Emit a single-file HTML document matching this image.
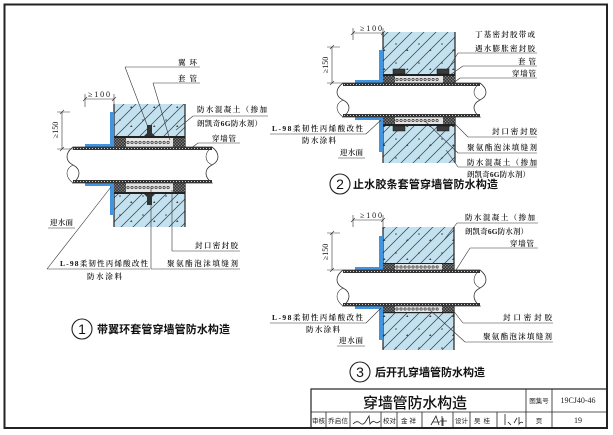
<!DOCTYPE html>
<html><head><meta charset="utf-8"><style>
html,body{margin:0;padding:0;background:#fff;}
svg{display:block;}
.l{font-family:"Liberation Serif","Noto Serif CJK SC",serif;font-size:7.5px;fill:#111;font-weight:600;}
.d{font-family:"Liberation Serif","Noto Serif CJK SC",serif;font-size:8px;fill:#111;}
.t{font-family:"Liberation Sans","Noto Sans CJK SC",sans-serif;font-size:11px;font-weight:bold;fill:#111;}
.n{font-family:"Liberation Sans",sans-serif;font-size:14px;fill:#111;}
.s{font-family:"Liberation Sans","Noto Sans CJK SC",sans-serif;font-size:6.5px;fill:#222;}
.ln{stroke:#333;stroke-width:0.6;fill:none;}
</style></head><body>
<svg width="613" height="435" viewBox="0 0 613 435" xmlns="http://www.w3.org/2000/svg">
<defs>
<pattern id="conc" width="12" height="12" patternUnits="userSpaceOnUse">
<rect width="12" height="12" fill="#c3e1ee"/>
<path d="M0,12 L12,0 M-3,3 L3,-3 M9,15 L15,9" stroke="#34444f" stroke-width="0.75"/>
</pattern>
<pattern id="dots" width="23" height="19" patternUnits="userSpaceOnUse">
<circle cx="5" cy="6" r="0.8" fill="#444"/><path d="M15,13 l2.5,0 l-1.2,-2z" fill="#444"/>
</pattern>
<pattern id="seal" width="3" height="3" patternUnits="userSpaceOnUse">
<rect width="3" height="3" fill="#3a3a3a"/><path d="M0,0 L3,3 M3,0 L0,3" stroke="#8a8a8a" stroke-width="0.5"/>
</pattern>
</defs>

<!-- frame -->
<rect x="4.5" y="4.5" width="602.5" height="423.5" fill="none" stroke="#222" stroke-width="2"/>

<!-- ================= DETAIL 1 ================= -->
<rect x="114" y="104" width="71" height="123" fill="url(#conc)"/>
<rect x="114" y="104" width="71" height="123" fill="url(#dots)"/>
<line x1="114" y1="104" x2="114" y2="227" stroke="#222" stroke-width="1.2"/>
<line x1="185" y1="104" x2="185" y2="227" stroke="#222" stroke-width="1.2"/>
<rect x="114" y="136" width="71" height="2" fill="#222"/>
<rect x="114" y="138" width="71" height="9" fill="#e4e4e4"/>
<rect x="114" y="138" width="12" height="9" fill="url(#seal)"/>
<rect x="173" y="138" width="12" height="9" fill="url(#seal)"/>
<line x1="128" y1="142.5" x2="171" y2="142.5" stroke="#333" stroke-width="3" stroke-linecap="round" stroke-dasharray="0.01 4"/>
<line x1="128" y1="142.5" x2="171" y2="142.5" stroke="#e4e4e4" stroke-width="1.6" stroke-linecap="round" stroke-dasharray="0.01 4"/>
<rect x="114" y="183" width="71" height="9" fill="#e4e4e4"/>
<rect x="114" y="183" width="12" height="9" fill="url(#seal)"/>
<rect x="173" y="183" width="12" height="9" fill="url(#seal)"/>
<line x1="128" y1="187.5" x2="171" y2="187.5" stroke="#333" stroke-width="3" stroke-linecap="round" stroke-dasharray="0.01 4"/>
<line x1="128" y1="187.5" x2="171" y2="187.5" stroke="#e4e4e4" stroke-width="1.6" stroke-linecap="round" stroke-dasharray="0.01 4"/>
<rect x="114" y="192" width="71" height="2" fill="#222"/>
<path d="M147,125 h5 v8 l3,3 h-11 l3,-3 z" fill="#333"/>
<path d="M147,205 h5 v-8 l3,-3 h-11 l3,3 z" fill="#333"/>
<rect x="110" y="112" width="4" height="35" fill="#4394df"/>
<rect x="85" y="144" width="29" height="3" fill="#4394df"/>
<rect x="85" y="183" width="29" height="3" fill="#4394df"/>
<rect x="110" y="183" width="4" height="32" fill="#4394df"/>
<path d="M73,147 H212 C220,153 220,161 212,165 C204,169 204,177 212,183 H73 C81,177 81,169 73,165 C65,161 65,153 73,147 Z" fill="#fff" stroke="#333" stroke-width="0.8"/>
<path d="M73,165 C65,169 65,177 73,183 M212,147 C204,153 204,161 212,165" class="ln" stroke-width="0.8"/>
<rect x="73" y="147" width="139" height="3" fill="#333"/>
<rect x="73" y="180" width="139" height="3" fill="#333"/>
<line x1="74" y1="148.5" x2="211" y2="148.5" stroke="#fff" stroke-width="0.7" stroke-dasharray="1 2"/>
<line x1="74" y1="181.5" x2="211" y2="181.5" stroke="#fff" stroke-width="0.7" stroke-dasharray="1 2"/>
<text class="d" x="88" y="97" textLength="22">≥100</text>
<path class="ln" d="M85,99 H114 M85,94 V107 M114,94 V104 M83,101 L87,97 M112,101 L116,97"/>
<text class="d" transform="translate(58,130) rotate(-90)" text-anchor="middle" y="0">≥150</text>
<path class="ln" d="M62,112 V149 M57,112 H70 M57,149 H73 M60,114 L64,110 M60,151 L64,147"/>
<text class="l" x="178" y="65" textLength="19">翼环</text>
<path class="ln" d="M125,67 H200 M125,67 L149,130"/>
<text class="l" x="178" y="81" textLength="19">套管</text>
<path class="ln" d="M153,83 H200 M153,83 L170,140"/>
<text class="l" x="197" y="112" textLength="70">防水混凝土（掺加</text>
<path class="ln" d="M193,116 H268 M193,116 L176,130"/>
<text class="l" x="197" y="126" textLength="65">朗凯奇6G防水剂）</text>
<text class="l" x="212" y="141" textLength="24">穿墙管</text>
<path class="ln" d="M198,143 H240 M198,143 L190,149"/>
<text class="l" x="50" y="225" textLength="23">迎水面</text>
<path class="ln" d="M48,228 H75"/>
<text class="l" x="60" y="266" textLength="88">L-98柔韧性丙烯酸改性</text>
<path class="ln" d="M47,269 H150 M47,269 L111,187"/>
<text class="l" x="87" y="279" textLength="35">防水涂料</text>
<text class="l" x="195" y="248" textLength="43">封口密封胶</text>
<path class="ln" d="M172,251 H240 M172,251 V190"/>
<text class="l" x="167" y="266" textLength="71">聚氨酯泡沫填缝剂</text>
<path class="ln" d="M151,269 H240 M151,269 V188"/>
<circle cx="82" cy="329" r="10" fill="none" stroke="#222" stroke-width="1.1"/>
<text class="n" x="82" y="334" text-anchor="middle">1</text>
<text class="t" x="97" y="333" textLength="133">带翼环套管穿墙管防水构造</text>

<!-- ================= DETAIL 2 ================= -->
<rect x="383" y="32" width="72" height="131" fill="url(#conc)"/>
<rect x="383" y="32" width="72" height="131" fill="url(#dots)"/>
<line x1="383" y1="32" x2="383" y2="163" stroke="#222" stroke-width="1.2"/>
<line x1="455" y1="32" x2="455" y2="163" stroke="#222" stroke-width="1.2"/>
<rect x="383" y="74" width="72" height="2" fill="#222"/>
<rect x="383" y="76" width="72" height="7" fill="#e4e4e4"/>
<rect x="383" y="76" width="12" height="7" fill="url(#seal)"/>
<rect x="443" y="76" width="12" height="7" fill="url(#seal)"/>
<line x1="397" y1="79.5" x2="441" y2="79.5" stroke="#333" stroke-width="3" stroke-linecap="round" stroke-dasharray="0.01 4"/>
<line x1="397" y1="79.5" x2="441" y2="79.5" stroke="#e4e4e4" stroke-width="1.6" stroke-linecap="round" stroke-dasharray="0.01 4"/>
<rect x="383" y="117" width="72" height="7" fill="#e4e4e4"/>
<rect x="383" y="117" width="12" height="7" fill="url(#seal)"/>
<rect x="443" y="117" width="12" height="7" fill="url(#seal)"/>
<line x1="397" y1="120.5" x2="441" y2="120.5" stroke="#333" stroke-width="3" stroke-linecap="round" stroke-dasharray="0.01 4"/>
<line x1="397" y1="120.5" x2="441" y2="120.5" stroke="#e4e4e4" stroke-width="1.6" stroke-linecap="round" stroke-dasharray="0.01 4"/>
<rect x="383" y="124" width="72" height="2" fill="#222"/>
<rect x="393" y="69" width="12" height="5" fill="#3a3a3a" stroke="#111" stroke-width="0.5"/>
<rect x="437" y="69" width="12" height="5" fill="#3a3a3a" stroke="#111" stroke-width="0.5"/>
<rect x="393" y="126" width="12" height="5" fill="#3a3a3a" stroke="#111" stroke-width="0.5"/>
<rect x="437" y="126" width="12" height="5" fill="#3a3a3a" stroke="#111" stroke-width="0.5"/>
<rect x="379" y="50" width="4" height="33" fill="#4394df"/>
<rect x="355" y="80" width="28" height="3" fill="#4394df"/>
<rect x="355" y="117" width="28" height="3" fill="#4394df"/>
<rect x="379" y="117" width="4" height="35" fill="#4394df"/>
<path d="M343,83 H480 C488,89 488,96 480,100 C472,104 472,111 480,117 H343 C351,111 351,104 343,100 C335,96 335,89 343,83 Z" fill="#fff" stroke="#333" stroke-width="0.8"/>
<path d="M343,100 C335,104 335,111 343,117 M480,83 C472,89 472,96 480,100" class="ln" stroke-width="0.8"/>
<rect x="343" y="83" width="137" height="3" fill="#333"/>
<rect x="343" y="114" width="137" height="3" fill="#333"/>
<line x1="344" y1="84.5" x2="479" y2="84.5" stroke="#fff" stroke-width="0.7" stroke-dasharray="1 2"/>
<line x1="344" y1="115.5" x2="479" y2="115.5" stroke="#fff" stroke-width="0.7" stroke-dasharray="1 2"/>
<text class="d" x="360" y="31" textLength="22">≥100</text>
<path class="ln" d="M353,33 H383 M353,28 V40 M383,28 V32 M351,35 L355,31 M381,35 L385,31"/>
<text class="d" transform="translate(328,65) rotate(-90)" text-anchor="middle">≥150</text>
<path class="ln" d="M332,47 V83 M327,47 H340 M327,83 H343 M330,49 L334,45 M330,85 L334,81"/>
<text class="l" x="475" y="37" textLength="60">丁基密封胶带或</text>
<text class="l" x="475" y="51" textLength="60">遇水膨胀密封胶</text>
<path class="ln" d="M458,53 H537 M458,53 L447,71"/>
<text class="l" x="518" y="64" textLength="18">套管</text>
<path class="ln" d="M463,66 H537 M463,66 L450,75"/>
<text class="l" x="512" y="76" textLength="24">穿墙管</text>
<path class="ln" d="M460,78 H537 M460,78 L452,84"/>
<text class="l" x="492" y="134" textLength="45">封口密封胶</text>
<path class="ln" d="M468,137 H537 M468,137 L452,121"/>
<text class="l" x="467" y="150" textLength="70">聚氨酯泡沫填缝剂</text>
<path class="ln" d="M458,153 H537 M458,153 L425,121"/>
<text class="l" x="467" y="165" textLength="70">防水混凝土（掺加</text>
<path class="ln" d="M458,167 H537 M458,167 L446,150"/>
<text class="l" x="467" y="177" textLength="63">朗凯奇6G防水剂）</text>
<text class="l" x="272" y="131" textLength="91">L-98柔韧性丙烯酸改性</text>
<path class="ln" d="M270,134 H366 M366,134 L381,120"/>
<text class="l" x="302" y="143" textLength="34">防水涂料</text>
<text class="l" x="340" y="155" textLength="23">迎水面</text>
<path class="ln" d="M338,158 H365"/>
<circle cx="340" cy="184" r="10" fill="none" stroke="#222" stroke-width="1.1"/>
<text class="n" x="340" y="189" text-anchor="middle">2</text>
<text class="t" x="353" y="188" textLength="145">止水胶条套管穿墙管防水构造</text>

<!-- ================= DETAIL 3 ================= -->
<rect x="383" y="227" width="71" height="123" fill="url(#conc)"/>
<rect x="383" y="227" width="71" height="123" fill="url(#dots)"/>
<line x1="383" y1="227" x2="383" y2="350" stroke="#222" stroke-width="1.2"/>
<line x1="454" y1="227" x2="454" y2="350" stroke="#222" stroke-width="1.2"/>
<rect x="383" y="263" width="71" height="1.2" fill="#222"/>
<rect x="383" y="264" width="71" height="6" fill="#e4e4e4"/>
<rect x="383" y="264" width="12" height="6" fill="url(#seal)"/>
<rect x="442" y="264" width="12" height="6" fill="url(#seal)"/>
<line x1="397" y1="267" x2="440" y2="267" stroke="#333" stroke-width="3" stroke-linecap="round" stroke-dasharray="0.01 4"/>
<line x1="397" y1="267" x2="440" y2="267" stroke="#e4e4e4" stroke-width="1.6" stroke-linecap="round" stroke-dasharray="0.01 4"/>
<rect x="383" y="306" width="71" height="6" fill="#e4e4e4"/>
<rect x="383" y="306" width="12" height="6" fill="url(#seal)"/>
<rect x="442" y="306" width="12" height="6" fill="url(#seal)"/>
<line x1="397" y1="309" x2="440" y2="309" stroke="#333" stroke-width="3" stroke-linecap="round" stroke-dasharray="0.01 4"/>
<line x1="397" y1="309" x2="440" y2="309" stroke="#e4e4e4" stroke-width="1.6" stroke-linecap="round" stroke-dasharray="0.01 4"/>
<rect x="383" y="312" width="71" height="1.2" fill="#222"/>
<rect x="379" y="236" width="4" height="34" fill="#4394df"/>
<rect x="355" y="267" width="28" height="3" fill="#4394df"/>
<rect x="355" y="306" width="28" height="3" fill="#4394df"/>
<rect x="379" y="306" width="4" height="34" fill="#4394df"/>
<path d="M343,270 H480 C488,276 488,284 480,288 C472,292 472,300 480,306 H343 C351,300 351,292 343,288 C335,284 335,276 343,270 Z" fill="#fff" stroke="#333" stroke-width="0.8"/>
<path d="M343,288 C335,292 335,300 343,306 M480,270 C472,276 472,284 480,288" class="ln" stroke-width="0.8"/>
<rect x="343" y="270" width="137" height="3" fill="#333"/>
<rect x="343" y="303" width="137" height="3" fill="#333"/>
<line x1="344" y1="271.5" x2="479" y2="271.5" stroke="#fff" stroke-width="0.7" stroke-dasharray="1 2"/>
<line x1="344" y1="304.5" x2="479" y2="304.5" stroke="#fff" stroke-width="0.7" stroke-dasharray="1 2"/>
<text class="d" x="360" y="218" textLength="22">≥100</text>
<path class="ln" d="M353,220 H383 M353,215 V227 M383,215 V227 M351,222 L355,218 M381,222 L385,218"/>
<text class="d" transform="translate(328,252) rotate(-90)" text-anchor="middle">≥150</text>
<path class="ln" d="M332,233 V270 M327,233 H340 M327,270 H343 M330,235 L334,231 M330,272 L334,268"/>
<text class="l" x="465" y="220" textLength="70">防水混凝土（掺加</text>
<path class="ln" d="M457,223 H538 M457,223 L444,240"/>
<text class="l" x="465" y="234" textLength="63">朗凯奇6G防水剂）</text>
<text class="l" x="510" y="246" textLength="24">穿墙管</text>
<path class="ln" d="M470,248 H538 M470,248 L456,270"/>
<text class="l" x="503" y="320" textLength="49">封口密封胶</text>
<path class="ln" d="M463,323 H553 M463,323 L452,309"/>
<text class="l" x="483" y="339" textLength="69">聚氨酯泡沫填缝剂</text>
<path class="ln" d="M465,342 H553 M465,342 L430,310"/>
<text class="l" x="272" y="320" textLength="91">L-98柔韧性丙烯酸改性</text>
<path class="ln" d="M270,323 H366 M366,323 L381,308"/>
<text class="l" x="306" y="332" textLength="34">防水涂料</text>
<text class="l" x="339" y="343" textLength="24">迎水面</text>
<path class="ln" d="M337,346 H365"/>
<circle cx="360" cy="372" r="10" fill="none" stroke="#222" stroke-width="1.1"/>
<text class="n" x="360" y="377" text-anchor="middle">3</text>
<text class="t" x="375" y="376" textLength="110">后开孔穿墙管防水构造</text>

<!-- ================= TITLE BLOCK ================= -->
<rect x="311" y="389" width="296" height="39" fill="none" stroke="#222" stroke-width="1.2"/>
<path d="M311,412 H607 M526,389 V428 M552,389 V428 M326,412 V428 M350,412 V428 M381,412 V428 M397,412 V428 M422,412 V428 M453,412 V428 M470,412 V428 M497,412 V428" stroke="#222" stroke-width="0.8" fill="none"/>
<text x="415" y="408" text-anchor="middle" textLength="104" style="font-family:'Liberation Sans','Noto Sans CJK SC',sans-serif;font-size:15px;font-weight:500;fill:#111;">穿墙管防水构造</text>
<text class="s" x="539" y="403" text-anchor="middle">图集号</text>
<text x="578" y="403" text-anchor="middle" style="font-family:'Liberation Serif',serif;font-size:8px;fill:#222;">19CJ40-46</text>
<text class="s" x="312" y="423" textLength="13">审核</text>
<text class="s" x="328" y="423" textLength="20">乔启信</text>
<path d="M353,424 q4,-4 7,-1 t6,-2 l3,-5 l1,8 q3,-4 5,-2 t5,-1" fill="none" stroke="#222" stroke-width="0.8"/>
<text class="s" x="383" y="423" textLength="13">校对</text>
<text class="s" x="401" y="423" textLength="15">金 祥</text>
<path d="M431,425 l5,-9 l3,9 m-6,-3 h7 m2,-6 v10 m-2,-5 h7 m-4,-3 v8" fill="none" stroke="#222" stroke-width="0.8"/>
<text class="s" x="455" y="423" textLength="13">设计</text>
<text class="s" x="474" y="423" textLength="16">吴 桂</text>
<path d="M505,414 v11 m3,-3 l3,3 m6,-7 l-3,5 m5,-6 v7 q2,-3 4,-1" fill="none" stroke="#222" stroke-width="0.8"/>
<text class="s" x="539" y="423" text-anchor="middle">页</text>
<text x="578" y="423" text-anchor="middle" style="font-family:'Liberation Serif',serif;font-size:8px;fill:#222;">19</text>
</svg>
</body></html>
